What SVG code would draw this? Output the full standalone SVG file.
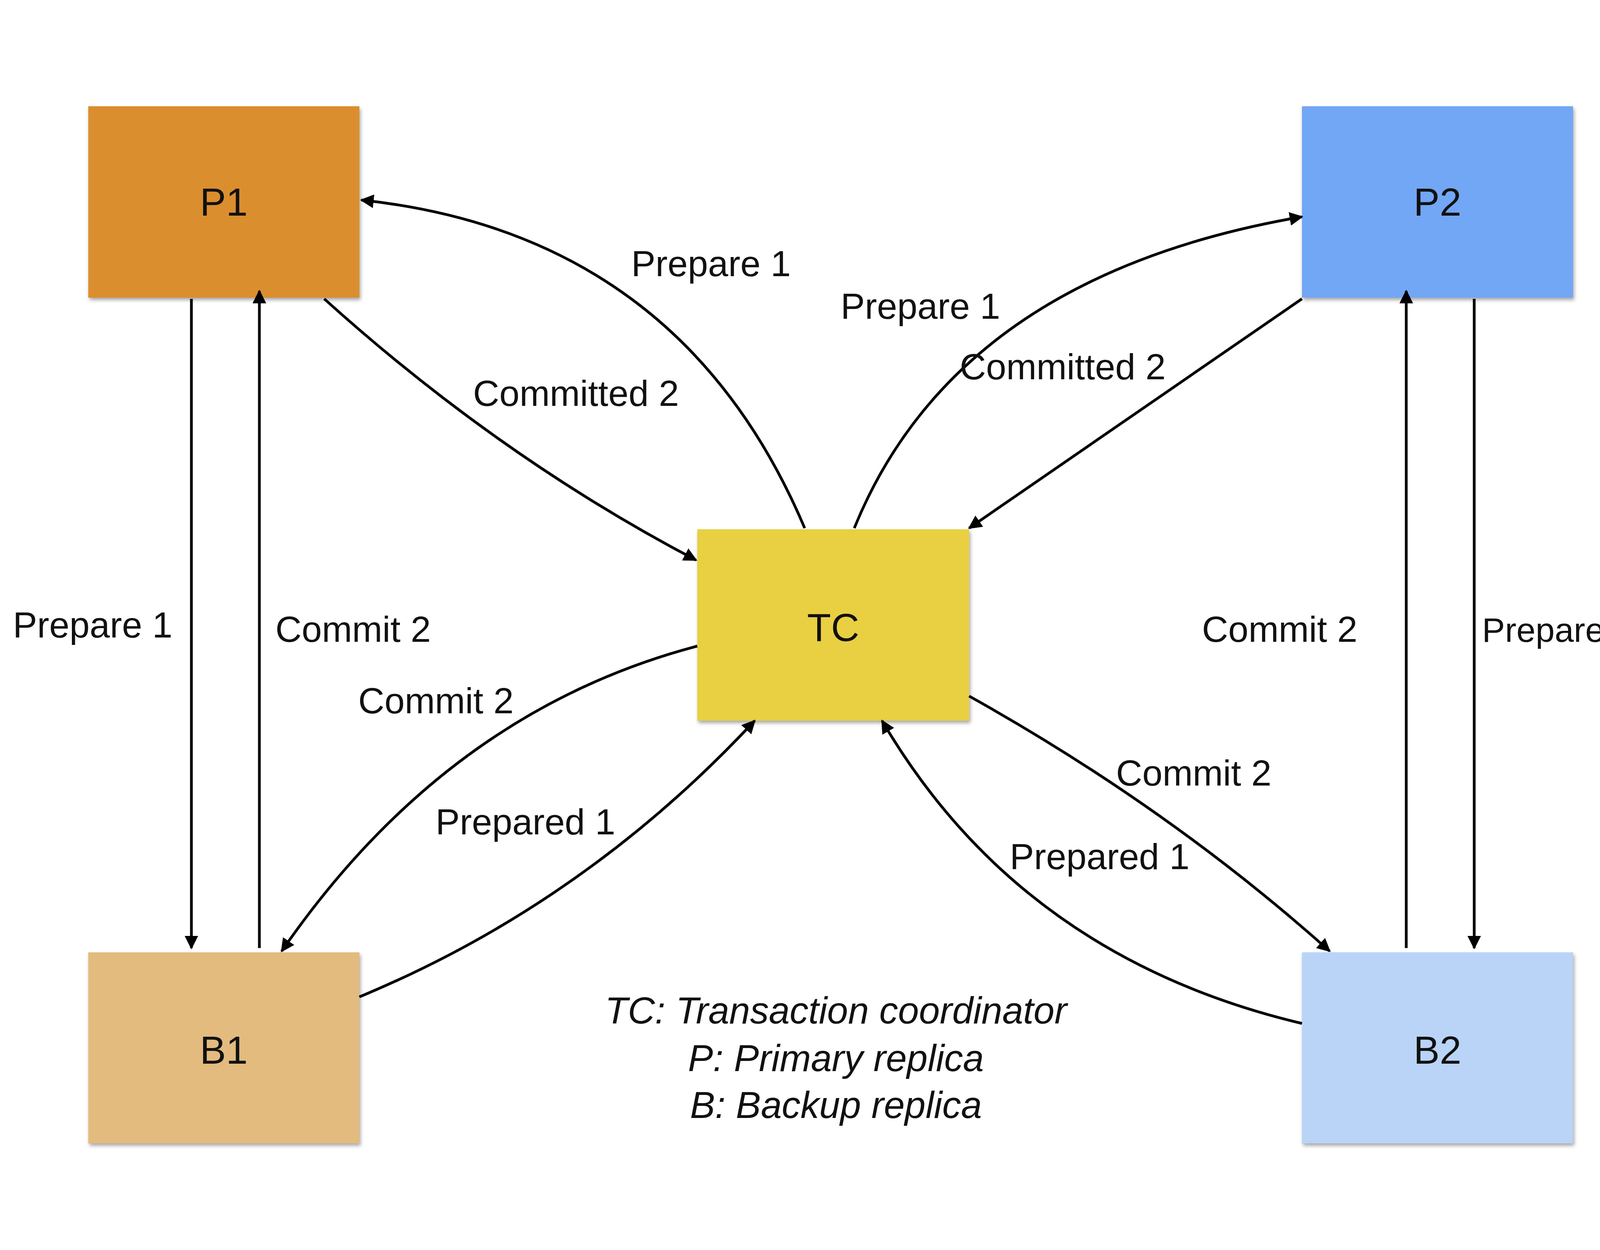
<svg xmlns="http://www.w3.org/2000/svg" width="4266" height="3200" viewBox="0 0 4266 3200">
<style>
.lbl{font-family:"Liberation Sans",Arial,sans-serif;font-size:93px;fill:#111}
.nl{font-family:"Liberation Sans",Arial,sans-serif;font-size:100px;fill:#111;text-anchor:middle}
.leg{font-family:"Liberation Sans",Arial,sans-serif;font-size:96px;font-style:italic;fill:#111;text-anchor:middle}
.c{fill:none;stroke:#000;stroke-width:7;marker-end:url(#ah)}
.box{filter:url(#sh)}
</style>
<defs>
<marker id="ah" viewBox="0 0 10 10" refX="9" refY="5" markerWidth="5" markerHeight="5" orient="auto" markerUnits="strokeWidth"><path d="M0,0 L10,5 L0,10 z" fill="#000"/></marker>
<filter id="sh" x="-5%" y="-5%" width="115%" height="115%"><feDropShadow dx="3" dy="6" stdDeviation="5" flood-color="#000" flood-opacity="0.35"/></filter>
</defs>
<rect width="4266" height="3200" fill="#fff"/>
<g id="P1"><rect class="box" x="226" y="272" width="694" height="490" fill="#DB8E2F"/><text class="nl" x="573" y="552">P1</text></g>
<g id="P2"><rect class="box" x="3333" y="272" width="694" height="490" fill="#72A7F5"/><text class="nl" x="3680" y="552">P2</text></g>
<g id="TC"><rect class="box" x="1785" y="1355" width="696" height="490" fill="#E8D042"/><text class="nl" x="2133" y="1641">TC</text></g>
<g id="B1"><rect class="box" x="226" y="2438" width="694" height="489" fill="#E3BB7E"/><text class="nl" x="573" y="2723">B1</text></g>
<g id="B2"><rect class="box" x="3333" y="2438" width="694" height="489" fill="#B9D4F7"/><text class="nl" x="3680" y="2723">B2</text></g>
<g id="connectors">
<path class="c" d="M2060,1352 Q1741,599 925,512"/>
<path class="c" d="M830,765 Q1279,1170 1782,1434"/>
<path class="c" d="M2187,1352 Q2449,707 3333,555"/>
<path class="c" d="M3333,765 L2481,1352"/>
<path class="c" d="M1785,1654 Q1143,1823 721,2435"/>
<path class="c" d="M920,2552 Q1496,2313 1932,1845"/>
<path class="c" d="M2481,1782 Q2993,2068 3404,2435"/>
<path class="c" d="M3333,2620 Q2612,2449 2258,1845"/>
<path class="c" d="M490,765 L490,2427"/>
<path class="c" d="M664,2427 L664,745"/>
<path class="c" d="M3600,2427 L3600,745"/>
<path class="c" d="M3774,765 L3774,2427"/>
</g>
<g id="labels">
<text class="lbl" x="1616" y="707">Prepare 1</text>
<text class="lbl" x="2152" y="816">Prepare 1</text>
<text class="lbl" x="1211" y="1039">Committed 2</text>
<text class="lbl" x="2457" y="971">Committed 2</text>
<text class="lbl" x="33" y="1632">Prepare 1</text>
<text class="lbl" x="705" y="1643">Commit 2</text>
<text class="lbl" x="917" y="1826">Commit 2</text>
<text class="lbl" x="1115" y="2136">Prepared 1</text>
<text class="lbl" x="3077" y="1643">Commit 2</text>
<text class="lbl" x="3794" y="1643" style="font-size:88px">Prepare 1</text>
<text class="lbl" x="2857" y="2011">Commit 2</text>
<text class="lbl" x="2585" y="2225">Prepared 1</text>
<text class="leg" x="2140" y="2620">TC: Transaction coordinator</text>
<text class="leg" x="2140" y="2742">P: Primary replica</text>
<text class="leg" x="2140" y="2862">B: Backup replica</text>
</g>
</svg>
